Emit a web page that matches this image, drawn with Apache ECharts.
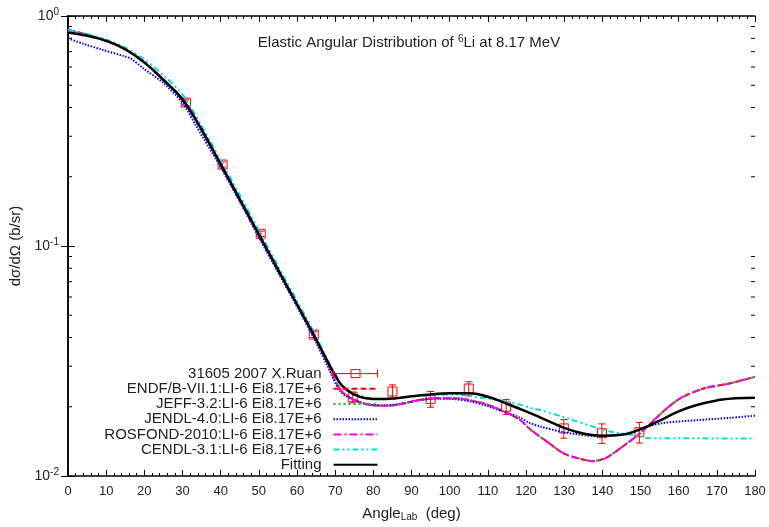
<!DOCTYPE html>
<html>
<head>
<meta charset="utf-8">
<script src="https://cdn.jsdelivr.net/npm/echarts@6/dist/echarts.min.js"></script>
<style>html,body{margin:0;padding:0;background:#fff;}#c{width:769px;height:527px;}</style>
</head>
<body>
<div id="c"></div>
<script>
// ---- data ----
const expName = '31605 2007 X.Ruan';
const expAngle = [30.9, 40.5, 50.5, 64.4, 74.6, 85.0, 95.0, 105.0, 114.8, 129.9, 139.9, 149.7];
const expValue = [0.42, 0.226, 0.113, 0.0412, 0.022, 0.0233, 0.0216, 0.024, 0.020, 0.0161, 0.01535, 0.0155];
const expErr   = [0.012, 0.006, 0.003, 0.0012, 0.0012, 0.0016, 0.0017, 0.0017, 0.0015, 0.0015, 0.0015, 0.0016];

const endfName = 'ENDF/B-VII.1:LI-6 Ei8.17E+6';
const jeffName = 'JEFF-3.2:LI-6 Ei8.17E+6';
const jendlName = 'JENDL-4.0:LI-6 Ei8.17E+6';
const rosfondName = 'ROSFOND-2010:LI-6 Ei8.17E+6';
const cendlName = 'CENDL-3.1:LI-6 Ei8.17E+6';
const fitName = 'Fitting';

// ENDF, JEFF and ROSFOND evaluations coincide
const endfAngle = [0, 5, 10, 15, 20, 25, 30, 35, 40, 45, 50, 55, 60, 65, 68, 71.4, 75, 79, 84, 88, 92, 97, 101, 105, 110, 115, 118.5, 121, 125.5, 130, 134, 137.5, 141, 145.5, 150, 156, 160.5, 166.5, 173.5, 180];
const endfValue = [0.87, 0.83, 0.78, 0.715, 0.63, 0.53, 0.43, 0.318, 0.224, 0.158, 0.111, 0.0785, 0.0555, 0.039, 0.031, 0.0237, 0.0214, 0.0204, 0.0202, 0.0207, 0.0214, 0.0218, 0.0218, 0.0214, 0.0204, 0.0188, 0.0175, 0.016, 0.0141, 0.0125, 0.0119, 0.0116, 0.012, 0.0135, 0.0154, 0.0191, 0.0218, 0.024, 0.0253, 0.027];

const jendlAngle = [0, 4, 9, 14.4, 16.5, 19.6, 25, 30, 33.6, 40, 45, 50, 55, 60, 65, 68, 71.4, 75, 79.3, 83.6, 88, 92.4, 96.7, 101, 105.4, 110, 115, 118.5, 121, 123.8, 130, 138.6, 144.7, 150, 152, 156, 165, 173.5, 180];
const jendlValue = [0.80, 0.757, 0.713, 0.671, 0.652, 0.594, 0.511, 0.419, 0.332, 0.22, 0.156, 0.109, 0.077, 0.0545, 0.038, 0.030, 0.0233, 0.0214, 0.0204, 0.0203, 0.0207, 0.0214, 0.0217, 0.0216, 0.0211, 0.0201, 0.0188, 0.0179, 0.017, 0.0164, 0.0155, 0.0149, 0.0151, 0.0159, 0.0164, 0.017, 0.0175, 0.0179, 0.0183];

const cendlAngle = [0, 5, 10, 15, 20, 25, 30, 35, 40, 45, 50, 55, 60, 65, 68, 71.4, 75, 79.3, 83.6, 92.4, 101, 110, 115, 118.5, 121, 124, 130, 138.6, 143, 150, 151.2, 156, 180];
const cendlValue = [0.865, 0.835, 0.79, 0.73, 0.648, 0.553, 0.455, 0.333, 0.236, 0.167, 0.117, 0.082, 0.0578, 0.0405, 0.032, 0.0249, 0.0229, 0.0218, 0.0217, 0.0223, 0.0226, 0.0217, 0.0211, 0.0204, 0.0198, 0.0193, 0.018, 0.0162, 0.0155, 0.0149, 0.01463, 0.0146, 0.01455];

const fitAngle = [0, 5, 10, 15, 20, 25, 30, 35, 40, 45, 50, 55, 60, 65, 68, 70, 72, 75, 78, 82, 86, 90, 95, 100, 105, 110, 115, 120, 125, 130, 135, 140, 145, 150, 155, 160, 165, 170, 175, 180];
const fitValue = [0.848, 0.82, 0.78, 0.717, 0.627, 0.527, 0.434, 0.321, 0.227, 0.16, 0.1125, 0.0792, 0.0558, 0.0393, 0.0315, 0.0275, 0.0245, 0.0226, 0.0218, 0.0216, 0.0218, 0.0222, 0.0226, 0.0229, 0.0229, 0.0221, 0.0206, 0.0191, 0.0176, 0.0162, 0.0153, 0.01497, 0.0151, 0.016, 0.0174, 0.0191, 0.0204, 0.0213, 0.0218, 0.0219];

const xTickMin = 0, xTickMax = 180, xTickStep = 10;
const yExponents = [-2, -1, 0];
const yMinorTickValues = [0.02, 0.03, 0.04, 0.05, 0.06, 0.07, 0.08, 0.09, 0.2, 0.3, 0.4, 0.5, 0.6, 0.7, 0.8, 0.9];

// ---- chart ----
const FONT = '"Liberation Sans", Arial, sans-serif';
const pairs = (a, v) => a.map((x, i) => [x, v[i]]);
const chart = echarts.init(document.getElementById('c'), null, {renderer: 'canvas'});

function lineSeries(name, a, v, color, type, width, smooth) {
  return {
    name, type: 'line', data: pairs(a, v), showSymbol: false, symbol: 'none',
    smooth: smooth, clip: true, silent: true,
    lineStyle: {color, width, type}, itemStyle: {color}, z: 3
  };
}

const option = {
  animation: false,
  backgroundColor: '#fff',
  title: {
    text: 'Elastic Angular Distribution of {sup|6}Li at 8.17 MeV',
    left: 404, top: 29, textAlign: 'center',
    textStyle: {
      fontFamily: FONT, fontSize: 15, fontWeight: 'normal', color: '#222',
      rich: {sup: {fontFamily: FONT, fontSize: 10, color: '#222', verticalAlign: 'top', padding: [0, 0, 7, 0]}}
    }
  },
  grid: {left: 67, right: 14, top: 16, bottom: 49, containLabel: false},
  legend: {
    orient: 'vertical', align: 'right', right: 389, top: 366, padding: 0,
    itemWidth: 44, itemHeight: 10, itemGap: 0,
    textStyle: {fontFamily: FONT, fontSize: 15, color: '#222', lineHeight: 15.2, padding: [0, 7, 0, 0]},
    itemStyle: {opacity: 0},
    selectedMode: false,
    data: [
      {name: expName, icon: 'path://M0,5L44,5M0,1L0,9M44,1L44,9M17.5,1L26.5,1L26.5,9L17.5,9Z',
       itemStyle: {color: 'none', borderColor: '#ff0000', borderWidth: 1, opacity: 1}},
      endfName, jeffName, jendlName, rosfondName, cendlName, fitName
    ]
  },
  xAxis: [{
    type: 'value', min: xTickMin, max: xTickMax, interval: xTickStep,
    name: 'Angle{sub|Lab}  (deg)', nameLocation: 'middle', nameGap: 29,
    nameTextStyle: {fontFamily: FONT, fontSize: 15, color: '#222',
      rich: {sub: {fontFamily: FONT, fontSize: 10, color: '#222', verticalAlign: 'bottom', padding: [7, 0, 0, 0]}}},
    axisLine: {lineStyle: {color: '#000', width: 1.5}},
    axisTick: {inside: true, length: 6, lineStyle: {color: '#000'}},
    minorTick: {show: true, splitNumber: 5, length: 3, lineStyle: {color: '#000'}},
    axisLabel: {fontFamily: FONT, fontSize: 13, color: '#222', margin: 9},
    splitLine: {show: false}
  }, {
    type: 'value', position: 'top', min: xTickMin, max: xTickMax, interval: xTickStep,
    axisLine: {lineStyle: {color: '#000', width: 1.5}},
    axisTick: {inside: true, length: 6, lineStyle: {color: '#000'}},
    minorTick: {show: true, splitNumber: 5, length: 3, lineStyle: {color: '#000'}},
    axisLabel: {show: false}, splitLine: {show: false}
  }],
  yAxis: [{
    type: 'log', logBase: 10, min: Math.pow(10, yExponents[0]), max: Math.pow(10, yExponents[yExponents.length - 1]),
    name: 'dσ/dΩ (b/sr)', nameLocation: 'middle', nameGap: 45, nameRotate: 90,
    nameTextStyle: {fontFamily: FONT, fontSize: 15, color: '#222'},
    axisLine: {lineStyle: {color: '#000', width: 1.5}},
    axisTick: {inside: true, length: 7, lineStyle: {color: '#000'}},
    axisLabel: {
      margin: 9,
      formatter: (v) => '{b|10}{s|' + Math.round(Math.log10(v)) + '}',
      rich: {
        b: {fontFamily: FONT, fontSize: 14, color: '#222'},
        s: {fontFamily: FONT, fontSize: 10, color: '#222', verticalAlign: 'top', padding: [0, 0, 7, 0]}
      }
    },
    splitLine: {show: false}
  }, {
    type: 'log', logBase: 10, position: 'right',
    min: Math.pow(10, yExponents[0]), max: Math.pow(10, yExponents[yExponents.length - 1]),
    axisLine: {lineStyle: {color: '#000', width: 1.5}},
    axisTick: {inside: true, length: 7, lineStyle: {color: '#000'}},
    axisLabel: {show: false}, splitLine: {show: false}
  }],
  series: [
    {
      name: 'yMinorTicks', type: 'custom', silent: true, clip: false, z: 1,
      data: yMinorTickValues.map(v => [xTickMin, v]),
      renderItem: (params, api) => {
        const v = api.value(1);
        const p0 = api.coord([xTickMin, v]);
        const p1 = api.coord([xTickMax, v]);
        const st = {stroke: '#000', lineWidth: 1};
        return {type: 'group', children: [
          {type: 'line', shape: {x1: p0[0], y1: p0[1], x2: p0[0] + 4, y2: p0[1]}, style: st},
          {type: 'line', shape: {x1: p1[0] - 4, y1: p1[1], x2: p1[0], y2: p1[1]}, style: st}
        ]};
      }
    },
    {
      name: expName, type: 'custom', silent: true, z: 2,
      itemStyle: {color: '#ff0000'},
      data: expAngle.map((x, i) => [x, expValue[i], expValue[i] - expErr[i], expValue[i] + expErr[i]]),
      renderItem: (params, api) => {
        const x = api.value(0), y = api.value(1), lo = api.value(2), hi = api.value(3);
        const c = api.coord([x, y]);
        const pl = api.coord([x, lo]);
        const ph = api.coord([x, hi]);
        const st = {stroke: '#ff0000', lineWidth: 1, fill: 'none'};
        return {type: 'group', children: [
          {type: 'line', shape: {x1: pl[0], y1: pl[1], x2: ph[0], y2: ph[1]}, style: st},
          {type: 'line', shape: {x1: pl[0] - 3.5, y1: pl[1], x2: pl[0] + 3.5, y2: pl[1]}, style: st},
          {type: 'line', shape: {x1: ph[0] - 3.5, y1: ph[1], x2: ph[0] + 3.5, y2: ph[1]}, style: st},
          {type: 'rect', shape: {x: c[0] - 4.5, y: c[1] - 4.5, width: 9, height: 9}, style: {stroke: '#ff0000', lineWidth: 1, fill: 'rgba(255,255,255,0)'}}
        ]};
      }
    },
    lineSeries(endfName, endfAngle, endfValue, '#ff0000', [6, 3], 2, 0.3),
    lineSeries(jeffName, endfAngle, endfValue, '#00c000', [2, 3], 2, 0.3),
    lineSeries(jendlName, jendlAngle, jendlValue, '#0000ff', [1.5, 1.5], 2, 0.3),
    lineSeries(rosfondName, endfAngle, endfValue, '#ff00ff', [8, 3, 2, 3], 2, 0.3),
    lineSeries(cendlName, cendlAngle, cendlValue, '#00e0e0', [6, 3, 2, 3, 2, 3], 2, 0.3),
    lineSeries(fitName, fitAngle, fitValue, '#000000', 'solid', 2.5, 0.5)
  ]
};
chart.setOption(option);
</script>
</body>
</html>
